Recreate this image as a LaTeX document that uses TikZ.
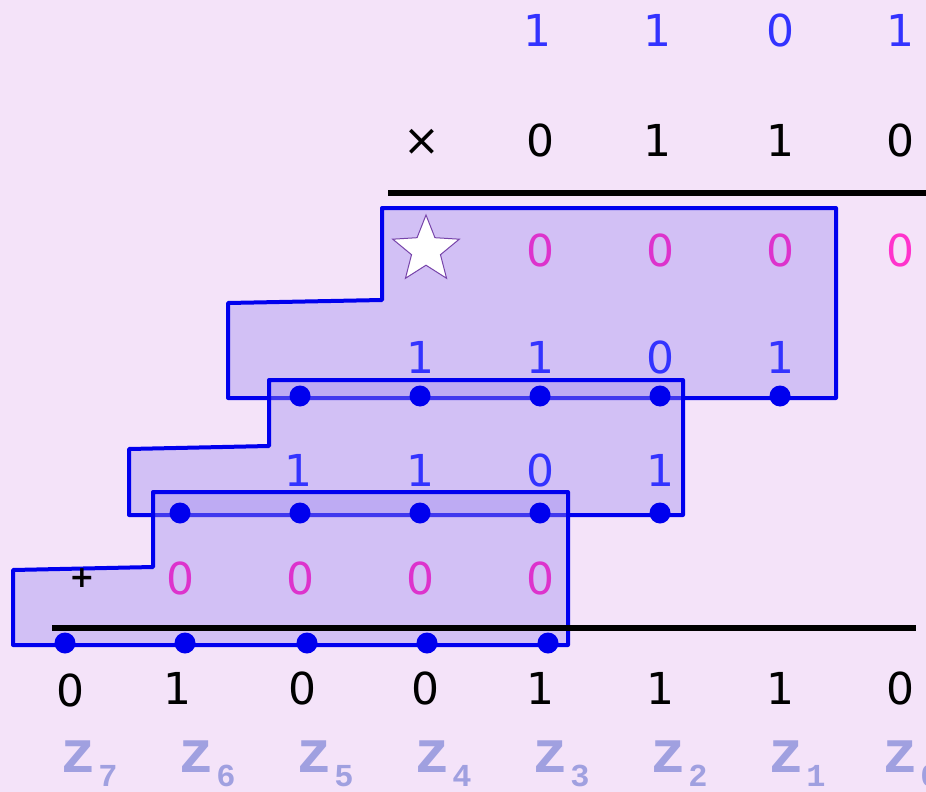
\documentclass[tikz,border=0pt]{standalone}
\usepackage{fontspec}
\setmainfont{DejaVu Sans}
\newfontfamily\zfont{Liberation Mono}
\usetikzlibrary{shapes.geometric}

\definecolor{bgpink}{HTML}{F4E3F9}
\definecolor{boxfill}{HTML}{A08CF0}
\definecolor{edgeblue}{HTML}{0000EE}
\definecolor{numblue}{HTML}{3333FF}
\definecolor{ppmag}{HTML}{DD33CC}
\definecolor{ppink}{HTML}{FF33CC}
\definecolor{zgray}{HTML}{A0A0E0}
\definecolor{starline}{HTML}{7744AA}

\newcommand{\zlab}[1]{{\zfont\bfseries z\hspace{1pt}\raisebox{-7pt}{\fontsize{16}{16}\selectfont #1}}}

\begin{document}
\begin{tikzpicture}[
  x={(0.5pt,0pt)}, y={(0pt,-0.5pt)},
  font=\fontsize{22}{24}\selectfont,
  every node/.style={inner sep=0pt},
  mc/.style={text=numblue},
  bit/.style={text=black},
  pp/.style={text=ppmag},
  zl/.style={anchor=base west, text=zgray, font=\fontsize{30}{30}\selectfont},
  dot/.style={circle, fill=edgeblue, minimum size=10.5pt},
  blk/.style={draw=edgeblue, line width=2pt, fill=boxfill, fill opacity=0.4, line join=round},
  rule/.style={draw=black, line width=2.6pt}
]
% background
\fill[bgpink] (0,0) rectangle (926,792);
\useasboundingbox (0,0) rectangle (926,792);

% multiplicand
\node[mc] (a3) at (537,30) {1};
\node[mc] (a2) at (657,30) {1};
\node[mc] (a1) at (780,30) {0};
\node[mc] (a0) at (900,30) {1};

% multiplier
\node[bit] (times) at (422,142) {×};
\node[bit] (b3) at (540,140) {0};
\node[bit] (b2) at (657,140) {1};
\node[bit] (b1) at (780,140) {1};
\node[bit] (b0) at (900,140) {0};

\draw[rule] (388,193) -- (926,193);

% blocks
\draw[blk] (382,208) -- (836,208) -- (836,398) -- (228,398) -- (228,303) -- (382,300) -- cycle;
\draw[blk] (269,380) -- (683,380) -- (683,515) -- (129,515) -- (129,449) -- (269,446) -- cycle;
\draw[blk] (153,492) -- (568,492) -- (568,645) -- (13,645) -- (13,570) -- (153,567) -- cycle;

% partial product 0
\node[star, star points=5, star point ratio=2.3, minimum size=35pt,
  draw=starline, fill=white, line width=0.5pt] (star) at (426,250) {};
\node[pp] (p03) at (540,250) {0};
\node[pp] (p02) at (660,250) {0};
\node[pp] (p01) at (780,250) {0};
\node[text=ppink] (p00) at (900,250) {0};

% partial product 1
\node[mc] (p13) at (420,357) {1};
\node[mc] (p12) at (540,357) {1};
\node[mc] (p11) at (660,357) {0};
\node[mc] (p10) at (780,357) {1};

% partial product 2
\node[mc] (p23) at (298,470) {1};
\node[mc] (p22) at (420,470) {1};
\node[mc] (p21) at (540,470) {0};
\node[mc] (p20) at (660,470) {1};

% partial product 3
\node[bit, font=\fontsize{15}{15}\selectfont\bfseries] (plus) at (82,578) {+};
\node[pp] (p33) at (180,578) {0};
\node[pp] (p32) at (300,578) {0};
\node[pp] (p31) at (420,578) {0};
\node[pp] (p30) at (540,578) {0};

\draw[rule] (52,628) -- (916,628);

% carry dots
\node[dot] (d14) at (300,396) {};
\node[dot] (d13) at (420,396) {};
\node[dot] (d12) at (540,396) {};
\node[dot] (d11) at (660,396) {};
\node[dot] (d10) at (780,396) {};
\node[dot] (d24) at (180,513) {};
\node[dot] (d23) at (300,513) {};
\node[dot] (d22) at (420,513) {};
\node[dot] (d21) at (540,513) {};
\node[dot] (d20) at (660,513) {};
\node[dot] (d34) at (65,643) {};
\node[dot] (d33) at (185,643) {};
\node[dot] (d32) at (307,643) {};
\node[dot] (d31) at (427,643) {};
\node[dot] (d30) at (548,643) {};

% product
\node[bit] (s7) at (70,690) {0};
\node[bit] (s6) at (177,688) {1};
\node[bit] (s5) at (302,688) {0};
\node[bit] (s4) at (425,688) {0};
\node[bit] (s3) at (540,688) {1};
\node[bit] (s2) at (660,688) {1};
\node[bit] (s1) at (780,688) {1};
\node[bit] (s0) at (900,688) {0};

% bit labels
\node[zl] (z7) at (60,772) {\zlab{7}};
\node[zl] (z6) at (178,772) {\zlab{6}};
\node[zl] (z5) at (296,772) {\zlab{5}};
\node[zl] (z4) at (414,772) {\zlab{4}};
\node[zl] (z3) at (532,772) {\zlab{3}};
\node[zl] (z2) at (650,772) {\zlab{2}};
\node[zl] (z1) at (768,772) {\zlab{1}};
\node[zl] (z0) at (882,772) {\zlab{0}};
\end{tikzpicture}
\end{document}
